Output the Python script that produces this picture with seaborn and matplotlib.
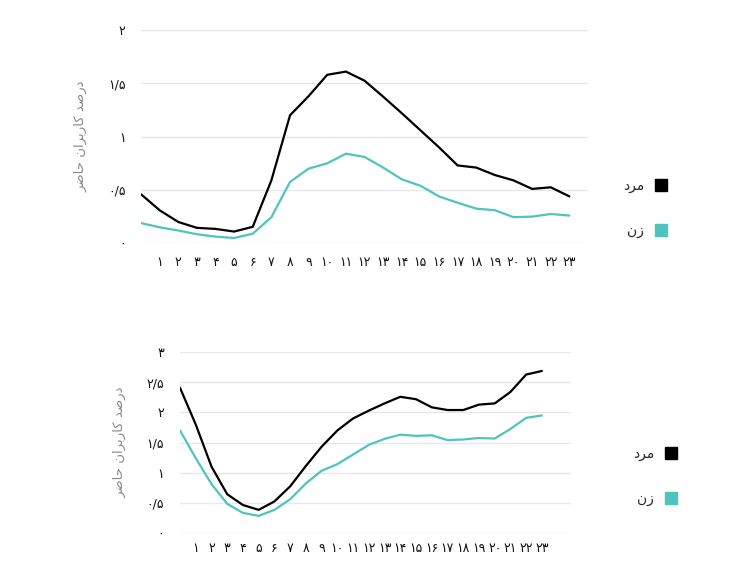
import matplotlib
matplotlib.use("Agg")
import matplotlib.pyplot as plt
from matplotlib.lines import Line2D
import seaborn as sns
import pandas as pd

hours = list(range(24))
hour_labels = ["", "۱", "۲", "۳", "۴", "۵", "۶", "۷", "۸", "۹", "۱۰", "۱۱", "۱۲",
               "۱۳", "۱۴", "۱۵", "۱۶", "۱۷", "۱۸", "۱۹", "۲۰", "۲۱", "۲۲", "۲۳"]

# top chart
top_men = [0.46, 0.31, 0.20, 0.145, 0.135, 0.11, 0.155, 0.59, 1.20, 1.38, 1.58, 1.61,
           1.525, 1.375, 1.22, 1.06, 0.90, 0.73, 0.71, 0.64, 0.59, 0.51, 0.525, 0.44]
top_women = [0.19, 0.15, 0.12, 0.085, 0.0625, 0.05, 0.09, 0.245, 0.575, 0.70, 0.75, 0.84,
             0.81, 0.71, 0.60, 0.54, 0.44, 0.38, 0.325, 0.31, 0.245, 0.25, 0.275, 0.26]
top_yticks = [0, 0.5, 1, 1.5, 2]
top_ylabels = ["۰", "۰/۵", "۱", "۱/۵", "۲"]

# bottom chart
bot_men = [2.41, 1.80, 1.10, 0.64, 0.46, 0.38, 0.52, 0.77, 1.11, 1.43, 1.70, 1.90,
           2.03, 2.15, 2.26, 2.22, 2.085, 2.04, 2.04, 2.13, 2.15, 2.34, 2.63, 2.69]
bot_women = [1.70, 1.24, 0.81, 0.48, 0.33, 0.28, 0.38, 0.555, 0.82, 1.03, 1.14, 1.30,
             1.46, 1.56, 1.63, 1.61, 1.62, 1.54, 1.55, 1.575, 1.565, 1.725, 1.91, 1.95]
bot_yticks = [0, 0.5, 1, 1.5, 2, 2.5, 3]
bot_ylabels = ["۰", "۰/۵", "۱", "۱/۵", "۲", "۲/۵", "۳"]

# Persian text in visual (pre-shaped) order
men_label = "\uFEA9\uFEAE\uFEE3"          # مرد
women_label = "\uFEE5\uFEAF"              # زن
ylabel_text = ("\uFEAE\uFEBF\uFE8E\uFEA3" + " " +
               "\uFEE5\uFE8D\uFEAE\uFE91\uFEAD\uFE8E\uFB90" + " " +
               "\uFEAA\uFEBB\uFEAD\uFEA9")  # درصد کاربران حاضر

MEN_C = "#000000"
WOMEN_C = "#4fc4bf"

sns.set_theme(style="white")
plt.rcParams['font.family'] = ['DejaVu Sans']

fig = plt.figure(figsize=(7.5, 5.76), dpi=100)

def build(men, women):
    return pd.DataFrame({
        "hour": hours + hours,
        "value": men + women,
        "g": [men_label] * 24 + [women_label] * 24,
    })

def draw(ax, df, yticks, ylabels, xmax, xpad, ypad, ylab_x, leg_center):
    sns.lineplot(data=df, x="hour", y="value", hue="g",
                 palette={men_label: MEN_C, women_label: WOMEN_C},
                 linewidth=1.6, ax=ax, legend=False)
    ax.set_xlim(0, xmax)
    ax.set_ylim(yticks[0], yticks[-1])
    ax.set_xticks(hours)
    ax.set_xticklabels(hour_labels, fontsize=9, color="#111111")
    ax.set_yticks(yticks)
    ax.set_yticklabels(ylabels, fontsize=9, color="#111111")
    ax.tick_params(axis="x", length=0, pad=xpad)
    ax.tick_params(axis="y", length=0, pad=ypad)
    ax.grid(axis="y", color="#e8e8e8", linewidth=1)
    ax.grid(axis="x", visible=False)
    for s in ax.spines.values():
        s.set_visible(False)
    ax.set_xlabel("")
    ax.set_ylabel(ylabel_text, fontsize=9.5, color="#8a8a8a")
    ax.yaxis.set_label_coords(ylab_x, 0.5)
    handles = [
        Line2D([], [], marker="s", linestyle="none", markersize=8.5,
               markerfacecolor=MEN_C, markeredgecolor=MEN_C, label=men_label),
        Line2D([], [], marker="s", linestyle="none", markersize=8.5,
               markerfacecolor=WOMEN_C, markeredgecolor=WOMEN_C, label=women_label),
    ]
    fig.legend(handles=handles, loc="center", bbox_to_anchor=leg_center,
               frameon=False, markerfirst=False, labelspacing=2.2,
               handletextpad=0.2, fontsize=10)

ax1 = fig.add_axes([141 / 750, 1 - 243.3 / 576, 447 / 750, 213.3 / 576])
draw(ax1, build(top_men, top_women), top_yticks, top_ylabels, 24.0,
     9.5, 11, -0.119, (649 / 750, 1 - 208.5 / 576))

ax2 = fig.add_axes([180 / 750, 1 - 532.7 / 576, 391 / 750, 180.4 / 576])
draw(ax2, build(bot_men, bot_women), bot_yticks, bot_ylabels, 24.85,
     6.5, 11.5, -0.136, (659 / 750, 1 - 476.5 / 576))

fig.savefig("out.png", dpi=100)
